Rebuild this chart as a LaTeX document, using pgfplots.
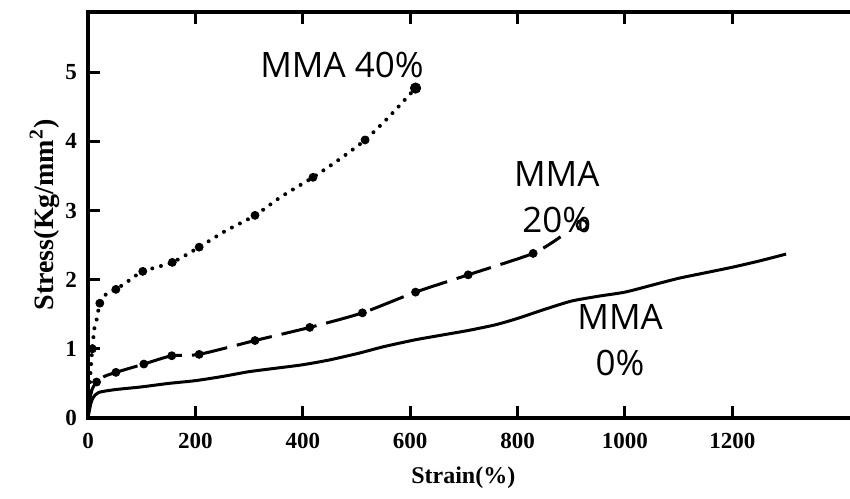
\documentclass[border=0pt]{standalone}
\usepackage{fontspec}
\setmainfont{Liberation Serif}
\newfontfamily\annfont{Open Sans}
\usepackage{pgfplots}
\pgfplotsset{compat=1.18}
\begin{document}
\begin{tikzpicture}
\path[use as bounding box] (-44pt,-40pt) rectangle (381pt,209pt);
\begin{axis}[
 at={(0,0)}, anchor=south west,
 scale only axis, width=389.3pt, height=203pt,
 xmin=0, xmax=1450, ymin=0, ymax=5.87,
 xtick={0,200,...,1200}, ytick={0,1,...,5},
 tick align=inside, major tick length=6pt,
 ytick pos=left,
 axis line style={line width=2pt},
 every tick/.style={black, line width=1.5pt},
 tick label style={font=\fontsize{11.5}{12}\selectfont\bfseries},
 /pgf/number format/assume math mode=true,
 /pgf/number format/1000 sep={},
 xticklabel style={yshift=-4pt},
 yticklabel style={xshift=-2pt},
 xlabel={Strain(\%)}, ylabel={Stress(Kg/mm\textsuperscript{2})},
 xlabel style={font=\fontsize{12}{14}\selectfont\bfseries, at={(axis description cs:0.482,-0.148)},anchor=center},
 ylabel style={font=\fontsize{14}{16}\selectfont\bfseries, at={(axis description cs:-0.056,0.5)},anchor=center},
 clip=false,
]
% MMA 40%
\addplot[black, line width=2pt, line cap=round, dash pattern=on 0pt off 4.5pt, smooth, tension=0.4] coordinates {
(0,0)(3,0.4)(5,0.7)(8,1.0)(12,1.3)(17,1.45)(22,1.66)(35,1.8)(52,1.86)(75,1.98)(102,2.12)(157,2.25)(207,2.47)(255,2.7)(311,2.93)(360,3.2)(419,3.48)(470,3.75)(516,4.02)(560,4.35)(610,4.77)};
\addplot[only marks, mark=*, mark size=2pt, black] coordinates {
(8,1.0)(22,1.66)(52,1.86)(102,2.12)(157,2.25)(207,2.47)(311,2.93)(419,3.48)(516,4.02)};
\addplot[only marks, mark=*, mark size=2.6pt, black] coordinates {(610,4.77)};
% MMA 20%
\addplot[black, line width=1.5pt, dash pattern=on 18pt off 5pt, smooth, tension=0.4] coordinates {
(0,0)(3,0.25)(8,0.42)(16,0.52)(30,0.6)(52,0.66)(104,0.78)(156,0.9)(207,0.92)(311,1.12)(413,1.31)(511,1.52)(610,1.82)(708,2.07)(829,2.38)(880,2.62)};
\addplot[only marks, mark=*, mark size=2pt, black] coordinates {
(16,0.52)(52,0.66)(104,0.78)(156,0.9)(207,0.92)(311,1.12)(413,1.31)(511,1.52)(610,1.82)(708,2.07)(829,2.38)};
\addplot[only marks, mark=o, mark size=2.6pt, black, line width=1.2pt] coordinates {(920,2.79)};
% MMA 0%
\addplot[black, line width=1.5pt, smooth, tension=0.4] coordinates {
(0,0)(5,0.2)(10,0.3)(20,0.37)(50,0.41)(100,0.45)(150,0.5)(200,0.54)(250,0.6)(300,0.67)(350,0.72)(400,0.77)(450,0.84)(506,0.94)(550,1.03)(609,1.13)(660,1.2)(711,1.27)(760,1.35)(800,1.44)(850,1.57)(900,1.69)(950,1.76)(1000,1.82)(1050,1.92)(1100,2.02)(1150,2.1)(1200,2.18)(1250,2.27)(1300,2.37)};
% labels
\node[font=\annfont\fontsize{17.5}{23}\selectfont, align=center] at (axis cs:473,5.10) {MMA 40\%};
\node[font=\annfont\fontsize{17.5}{23}\selectfont, align=center] at (axis cs:873,3.19) {MMA\\20\%};
\node[font=\annfont\fontsize{17.5}{23}\selectfont, align=center] at (axis cs:991,1.13) {MMA\\0\%};
\end{axis}
\end{tikzpicture}
\end{document}
